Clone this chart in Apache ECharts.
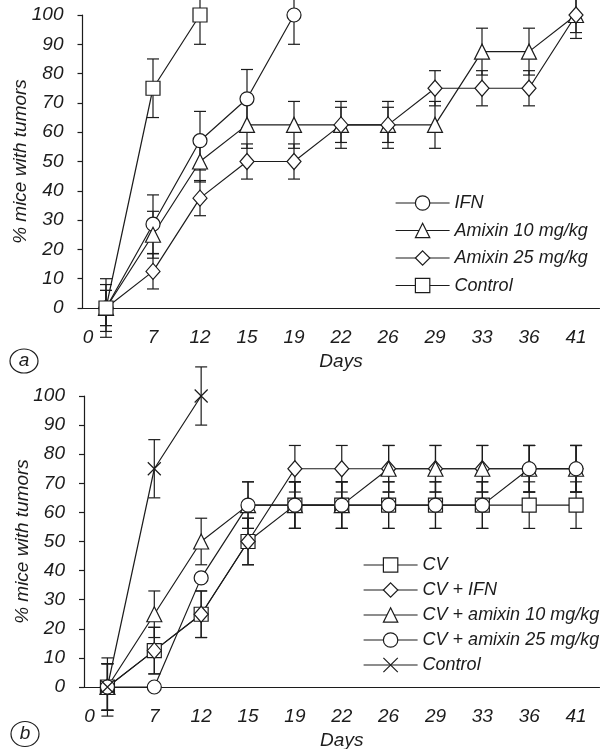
<!DOCTYPE html>
<html>
<head>
<meta charset="utf-8">
<script src="https://cdn.jsdelivr.net/npm/echarts@6/dist/echarts.min.js"></script>
<style>
  html, body { margin: 0; padding: 0; background: #fff; }
  #chart { width: 603px; height: 749px; }
</style>
</head>
<body>
<div id="chart"></div>
<script>
const days = ['0', '7', '12', '15', '19', '22', '26', '29', '33', '36', '41'];

// panel a
const ifn = [0, 28.6, 57.1, 71.4, 100];
const ifnErr = [8, 10, 10, 10, 10];
const amixin10 = [0, 25, 50, 62.5, 62.5, 62.5, 62.5, 62.5, 87.5, 87.5, 100];
const amixin10Err = [6, 8, 7, 8, 8, 8, 8, 8, 8, 8, 8];
const amixin25 = [0, 12.5, 37.5, 50, 50, 62.5, 62.5, 75, 75, 75, 100];
const amixin25Err = [6, 6, 6, 6, 6, 6, 6, 6, 6, 6, 6];
const controlA = [0, 75, 100];
const controlAErr = [10, 10, 10];

// panel b
const cv = [0, 12.5, 25, 50, 62.5, 62.5, 62.5, 62.5, 62.5, 62.5, 62.5];
const cvErr = [8, 8, 8, 8, 8, 8, 8, 8, 8, 8, 8];
const cvIfn = [0, 12.5, 25, 50, 75, 75, 75, 75, 75, 75, 75];
const cvIfnErr = [8, 8, 8, 8, 8, 8, 8, 8, 8, 8, 8];
const cvAmx10 = [0, 25, 50, 62.5, 62.5, 62.5, 75, 75, 75, 75, 75];
const cvAmx10Err = [8, 8, 8, 8, 8, 8, 8, 8, 8, 8, 8];
const cvAmx25 = [0, 0, 37.5, 62.5, 62.5, 62.5, 62.5, 62.5, 62.5, 75, 75];
const cvAmx25Err = [8, 0, 0, 8, 8, 8, 8, 8, 8, 8, 8];
const controlB = [0, 75, 100];
const controlBErr = [10, 10, 10];

const ink = '#1c1c1c';
const font = "'Liberation Sans', Arial, sans-serif";
const crossPath = 'path://M0,0L10,10M10,0L0,10';

const chart = echarts.init(document.getElementById('chart'), null, { renderer: 'canvas' });

// one line series with open markers
function lineSeries(name, data, symbol, size, idx) {
    return {
        name: name,
        type: 'line',
        xAxisIndex: idx,
        yAxisIndex: idx,
        data: data,
        symbol: symbol,
        symbolSize: size,
        showAllSymbol: true,
        clip: false,
        z: 3,
        lineStyle: { color: ink, width: 1.2 },
        itemStyle: { color: '#fff', borderColor: ink, borderWidth: 1.2 },
        emphasis: { disabled: true }
    };
}

// error bars drawn through the axes
function errSeries(values, errs, idx) {
    const data = [];
    values.forEach((v, i) => {
        if (errs[i] > 0) data.push([i, v - errs[i], v + errs[i]]);
    });
    return {
        type: 'custom',
        xAxisIndex: idx,
        yAxisIndex: idx,
        data: data,
        z: 1,
        silent: true,
        encode: { x: 0, y: [1, 2] },
        renderItem: function (params, api) {
            const top = api.coord([api.value(0), api.value(2)]);
            const bot = api.coord([api.value(0), api.value(1)]);
            const w = 6;
            const st = { stroke: ink, lineWidth: 1.2 };
            return {
                type: 'group',
                children: [
                    { type: 'line', shape: { x1: top[0], y1: top[1], x2: bot[0], y2: bot[1] }, style: st },
                    { type: 'line', shape: { x1: top[0] - w, y1: top[1], x2: top[0] + w, y2: top[1] }, style: st },
                    { type: 'line', shape: { x1: bot[0] - w, y1: bot[1], x2: bot[0] + w, y2: bot[1] }, style: st }
                ]
            };
        }
    };
}

const textStyle = { color: ink, fontFamily: font, fontStyle: 'italic', fontSize: 19 };

function xAxis(idx) {
    return {
        type: 'category',
        gridIndex: idx,
        data: days,
        boundaryGap: true,
        name: 'Days',
        nameLocation: 'middle',
        nameGap: 44,
        nameMoveOverlap: false,
        nameTextStyle: textStyle,
        axisLine: { lineStyle: { color: ink, width: 1.2 } },
        axisTick: { length: 5, lineStyle: { color: ink, width: 1.2 } },
        axisLabel: Object.assign({
            margin: 20,
            interval: 0,
            formatter: (v, i) => i === 0 ? '{z|' + v + '}' : v,
            rich: { z: Object.assign({ padding: [0, 36, 0, 0] }, textStyle) }
        }, textStyle)
    };
}

function yAxis(idx) {
    return {
        type: 'value',
        gridIndex: idx,
        min: 0,
        max: 100,
        interval: 10,
        name: '% mice with tumors',
        nameLocation: 'middle',
        nameGap: 52,
        nameMoveOverlap: false,
        nameTextStyle: textStyle,
        splitLine: { show: false },
        axisLine: { show: true, lineStyle: { color: ink, width: 1.2 } },
        axisTick: { show: true, length: 5, lineStyle: { color: ink, width: 1.2 } },
        axisLabel: Object.assign({ margin: 19 }, textStyle)
    };
}

function legend(names, left, top, gap) {
    return {
        data: names,
        orient: 'vertical',
        left: left,
        top: top,
        itemWidth: 54,
        itemHeight: 18,
        itemGap: gap,
        selectedMode: false,
        lineStyle: { color: ink, width: 1.2 },
        itemStyle: { color: '#fff', borderColor: ink, borderWidth: 1.2 },
        textStyle: { color: ink, fontFamily: font, fontStyle: 'italic', fontSize: 18 }
    };
}

const option = {
    animation: false,
    backgroundColor: '#fff',
    grid: [
        { left: 82.5, right: 3.5, top: 15, bottom: 441, outerBoundsMode: 'none' },
        { left: 84, right: 3.5, top: 396, bottom: 62, outerBoundsMode: 'none' }
    ],
    xAxis: [xAxis(0), xAxis(1)],
    yAxis: [yAxis(0), yAxis(1)],
    legend: [
        legend(['IFN', 'Amixin 10 mg/kg', 'Amixin 25 mg/kg', 'Control'], 390, 189, 9.5),
        legend(['CV', 'CV + IFN', 'CV + amixin 10 mg/kg', 'CV + amixin 25 mg/kg', 'Control '], 358, 551, 7)
    ],
    graphic: [
        { type: 'ellipse', shape: { cx: 24, cy: 361, rx: 14, ry: 12 }, style: { fill: 'none', stroke: ink, lineWidth: 1.2 } },
        { type: 'text', x: 24, y: 361, style: { text: 'a', align: 'center', verticalAlign: 'middle', fill: ink, font: 'italic 19px ' + font } },
        { type: 'ellipse', shape: { cx: 25, cy: 734, rx: 14, ry: 12.5 }, style: { fill: 'none', stroke: ink, lineWidth: 1.2 } },
        { type: 'text', x: 25, y: 734, style: { text: 'b', align: 'center', verticalAlign: 'middle', fill: ink, font: 'italic 19px ' + font } }
    ],
    series: [
        errSeries(ifn, ifnErr, 0),
        errSeries(amixin10, amixin10Err, 0),
        errSeries(amixin25, amixin25Err, 0),
        errSeries(controlA, controlAErr, 0),
        lineSeries('IFN', ifn, 'circle', 14, 0),
        lineSeries('Amixin 10 mg/kg', amixin10, 'triangle', 15, 0),
        lineSeries('Amixin 25 mg/kg', amixin25, 'diamond', [14, 16], 0),
        lineSeries('Control', controlA, 'rect', 14, 0),

        errSeries(cv, cvErr, 1),
        errSeries(cvIfn, cvIfnErr, 1),
        errSeries(cvAmx10, cvAmx10Err, 1),
        errSeries(cvAmx25, cvAmx25Err, 1),
        errSeries(controlB, controlBErr, 1),
        lineSeries('CV', cv, 'rect', 14, 1),
        lineSeries('CV + IFN', cvIfn, 'diamond', [14, 16], 1),
        lineSeries('CV + amixin 10 mg/kg', cvAmx10, 'triangle', 15, 1),
        lineSeries('CV + amixin 25 mg/kg', cvAmx25, 'circle', 14, 1),
        lineSeries('Control ', controlB, crossPath, 13, 1)
    ]
};

chart.setOption(option);
</script>
</body>
</html>
